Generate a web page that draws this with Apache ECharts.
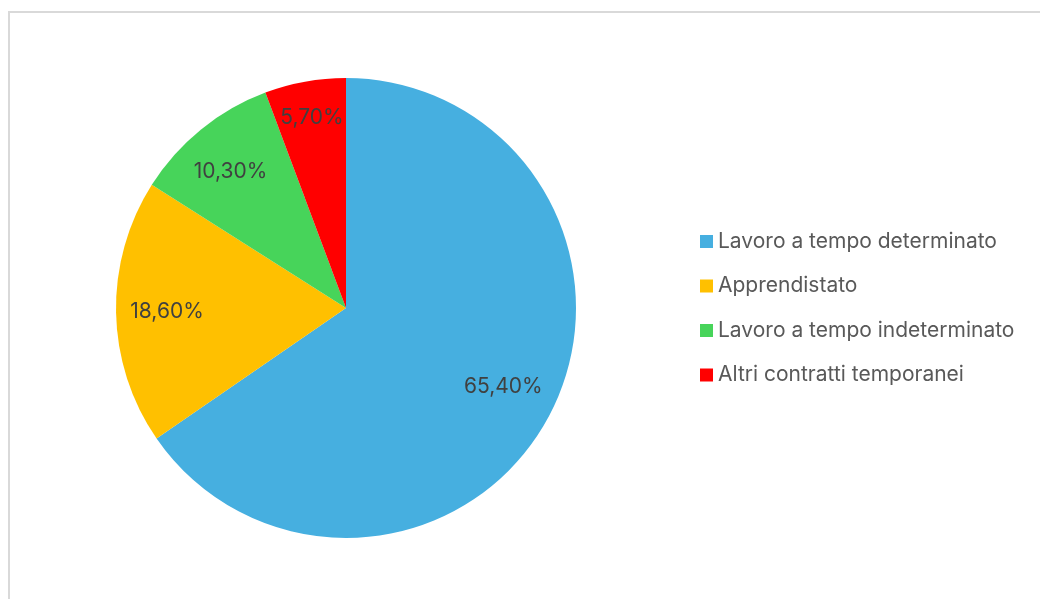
<!DOCTYPE html>
<html>
<head>
<meta charset="utf-8">
<script src="https://cdn.jsdelivr.net/npm/echarts@6/dist/echarts.min.js"></script>
<style>
  html, body { margin: 0; padding: 0; background: #ffffff; }
  #chart { width: 1040px; height: 599px; }
</style>
</head>
<body>
<div id="chart"></div>
<script>
// Contract types and their shares (%)
const categories = [
  'Lavoro a tempo determinato',
  'Apprendistato',
  'Lavoro a tempo indeterminato',
  'Altri contratti temporanei'
];
const shares = [65.4, 18.6, 10.3, 5.7];
const colors = ['#46AFE0', '#FFC000', '#47D45A', '#FF0000'];

// small nudges for the percentage labels (px)
const labelNudges = [[-2, -5], [1, 0], [-2, 3], [-2, -13]];

const fmt = v => v.toFixed(2).replace('.', ',') + '%';

const center = [346, 308];
const outerR = 230;
const fontFamily = 'Inter, "Open Sans", sans-serif';

const chart = echarts.init(document.getElementById('chart'), null, { renderer: 'canvas' });

chart.setOption({
  animation: false,
  backgroundColor: '#ffffff',
  graphic: [{
    type: 'rect',
    shape: { x: 9, y: 12, width: 1060, height: 620 },
    style: { fill: 'none', stroke: '#d9d9d9', lineWidth: 2 },
    silent: true
  }],
  legend: {
    orient: 'vertical',
    left: 695,
    top: 226,
    icon: 'rect',
    itemWidth: 13,
    itemHeight: 13,
    itemGap: 23.5,
    textStyle: { color: '#595959', fontSize: 21, fontFamily: fontFamily, padding: [0, 0, 0, 0] },
    data: categories
  },
  series: [
    {
      // the pie itself
      type: 'pie',
      center: center,
      radius: [0, outerR],
      startAngle: 90,
      clockwise: true,
      silent: true,
      label: { show: false },
      labelLine: { show: false },
      itemStyle: { borderWidth: 0 },
      data: categories.map((c, i) => ({ name: c, value: shares[i], itemStyle: { color: colors[i] } }))
    },
    {
      // transparent ring carrying the percentage labels
      type: 'pie',
      center: center,
      radius: [124, outerR],
      startAngle: 90,
      clockwise: true,
      silent: true,
      legendHoverLink: false,
      itemStyle: { color: 'rgba(0,0,0,0)', borderWidth: 0 },
      label: {
        show: true,
        position: 'inside',
        color: '#404040',
        fontSize: 21,
        fontFamily: fontFamily,
        formatter: p => fmt(p.value)
      },
      labelLine: { show: false },
      data: categories.map((c, i) => ({
        name: c,
        value: shares[i],
        label: { offset: labelNudges[i] }
      }))
    }
  ]
});
</script>
</body>
</html>
